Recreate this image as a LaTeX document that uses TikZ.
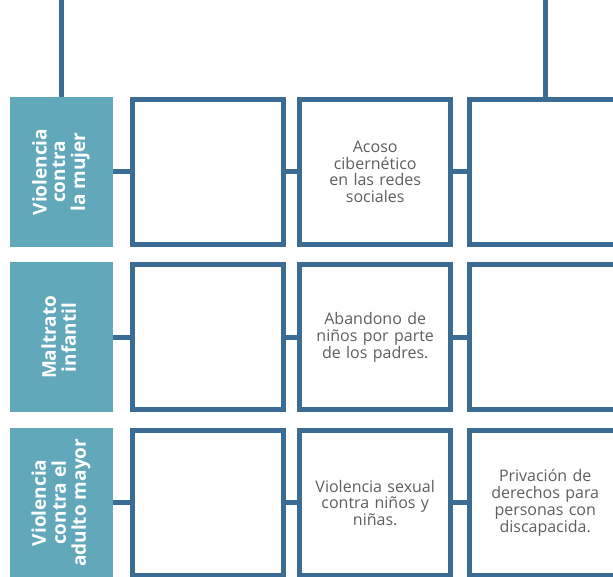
\documentclass[tikz,border=0pt]{standalone}
\usepackage{fontspec}
\setmainfont{Open Sans}
\usetikzlibrary{positioning}
\definecolor{azul}{HTML}{3B6C93}
\definecolor{celeste}{HTML}{62A8BB}
\definecolor{gristexto}{HTML}{5E5E5E}
\tikzset{
category/.style={fill=celeste, text=white, minimum width=103pt,
    minimum height=150pt, inner sep=0pt,
    font=\bfseries\fontsize{19}{18.5}\selectfont},
cell/.style={draw=azul, line width=5pt, minimum width=151pt,
    minimum height=145pt, text width=138pt, align=center, text=gristexto,
    font=\fontsize{16}{16.7}\selectfont},
link/.style={draw=azul, line width=5pt}
}
\newcommand{\vlabel}[1]{\rotatebox{90}{\begin{tabular}{@{}c@{}}#1\end{tabular}}}

\begin{document}
\begin{tikzpicture}[x=1pt, y=1pt]
	\useasboundingbox (0,0) rectangle (613,577);
	% fila 1
	\node[category] (mujer) at (61.5,405) {\vlabel{Violencia\\contra\\la mujer}};
	\node[cell, right=17pt of mujer] (mujerA) {};
	\node[cell, right=11pt of mujerA] (mujerB) {Acoso\\cibernético\\en las redes\\sociales};
	\node[cell, right=14pt of mujerB] (mujerC) {};
	% fila 2
	\node[category, below=15pt of mujer] (infantil) {\vlabel{Maltrato\\infantil}};
	\node[cell, right=17pt of infantil] (infantilA) {};
	\node[cell, right=11pt of infantilA] (infantilB) {Abandono de\\niños por parte\\de los padres.};
	\node[cell, right=14pt of infantilB] (infantilC) {};
	% fila 3
	\node[category, below=15pt of infantil] (mayor) {\vlabel{Violencia\\contra el\\adulto mayor}};
	\node[cell, right=17pt of mayor] (mayorA) {};
	\node[cell, right=11pt of mayorA] (mayorB) {Violencia sexual\\contra niños y\\niñas.};
	\node[cell, right=14pt of mayorB] (mayorC) {Privación de\\derechos para\\personas con\\discapacida.};

	\coordinate (arribaL) at (mujer.north |- 0,577);
	\coordinate (arribaR) at (mujerC.north |- 0,577);
	\draw[link] (arribaL) -- (mujer.north);
	\draw[link] (arribaR) -- (mujerC.north);
	\foreach \fila in {mujer, infantil, mayor} {
		\draw[link] (\fila) -- (\fila A);
		\draw[link] (\fila A) -- (\fila B);
		\draw[link] (\fila B) -- (\fila C);
	}
\end{tikzpicture}
\end{document}
